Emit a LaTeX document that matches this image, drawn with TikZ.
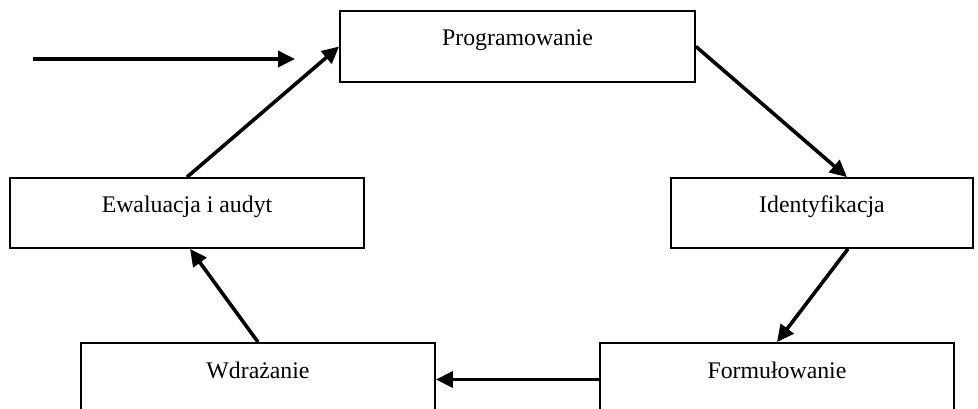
\documentclass[tikz,border=0pt]{standalone}
\usepackage{fontspec}
\setmainfont{Liberation Serif}
\usetikzlibrary{arrows.meta}

\begin{document}
\begin{tikzpicture}[x=1pt, y=-1pt,
  every node/.style={inner sep=0pt},
  box/.style={rectangle, draw=black, line width=1.8pt, anchor=base, text height=35pt, text depth=35pt, font=\fontsize{23.8}{28}\selectfont},
  arr/.style={line width=3.6pt, -{Triangle[length=17pt, width=16pt]}}]
\useasboundingbox (0,0) rectangle (978,409);
\clip (0,0) rectangle (978,409);
\node (prog) [box, minimum width=355pt, text depth=36pt] at (517.5, 46) {Programowanie};
\node (ident) [box, minimum width=302pt] at (822, 213) {Identyfikacja};
\node (form) [box, minimum width=354pt, text depth=38pt] at (777, 378) {Formułowanie};
\node (wdr) [box, minimum width=354pt, text depth=38pt] at (258, 378) {Wdrażanie};
\node (eval) [box, minimum width=354pt] at (187, 213) {Ewaluacja i audyt};
\coordinate (in1) at (33, 59);
\coordinate (in2) at (295, 59);
\draw [arr] (in1) to (in2);
\draw [arr] (prog.east) to ([xshift=25pt]ident.north);
\draw [arr] ([xshift=26pt]ident.south) to (form.north);
\draw [arr] (form.west) to (wdr.east);
\draw [arr] (wdr.north) to ([xshift=3pt]eval.south);
\draw [arr] (eval.north) to (prog.west);
\end{tikzpicture}
\end{document}
